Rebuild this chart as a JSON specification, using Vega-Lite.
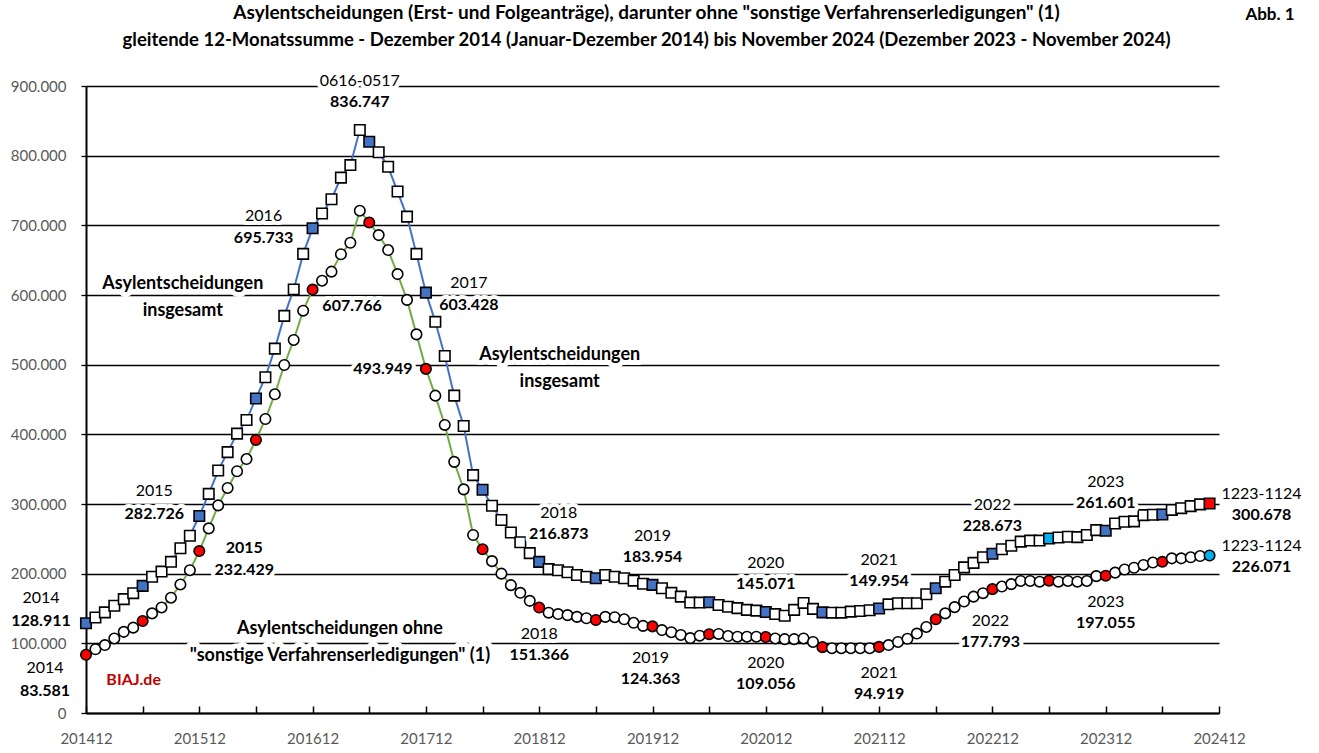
{
  "$schema": "https://vega.github.io/schema/vega-lite/v6.json",
  "width": 1133,
  "height": 627,
  "autosize": {"type": "none"},
  "padding": {"left": 86, "top": 86, "right": 100, "bottom": 40},
  "background": "white",
  "title": {
    "text": "Asylentscheidungen (Erst- und Folgeanträge), darunter ohne \"sonstige Verfahrenserledigungen\" (1)",
    "subtitle": "gleitende 12-Monatssumme - Dezember 2014 (Januar-Dezember 2014) bis November 2024 (Dezember 2023 - November 2024)",
    "anchor": "middle", "frame": "group", "offset": -44, "dx": -6,
    "font": "Lato", "fontSize": 19, "fontWeight": "bold", "color": "black",
    "subtitleFont": "Lato", "subtitleFontSize": 18.5, "subtitleFontWeight": "bold", "subtitleColor": "black",
    "subtitlePadding": 8
  },
  "config": {
    "locale": {"number": {"decimal": ",", "thousands": ".", "grouping": [3], "currency": ["", " €"]}},
    "font": "Lato",
    "view": {"stroke": null},
    "style": {
      "halo": {"font": "Lato", "fontSize": 16, "fontWeight": "bold", "fill": "white", "stroke": "white", "strokeWidth": 8, "strokeJoin": "round", "align": "center", "baseline": "middle"},
      "jahr": {"font": "Lato", "fontSize": 16, "fontWeight": "normal", "fill": "#404040", "align": "center", "baseline": "middle"},
      "zahl": {"font": "Lato", "fontSize": 16, "fontWeight": "bold", "fill": "black", "align": "center", "baseline": "middle"}
    }
  },
  "datasets": {
    "monate": [
      {"monat":"201412","i":0,"gesamt":128911,"ohne":83581},
      {"monat":"201501","i":1,"gesamt":137000,"ohne":91500},
      {"monat":"201502","i":2,"gesamt":144500,"ohne":97500},
      {"monat":"201503","i":3,"gesamt":154000,"ohne":107000},
      {"monat":"201504","i":4,"gesamt":163500,"ohne":116500},
      {"monat":"201505","i":5,"gesamt":172000,"ohne":122500},
      {"monat":"201506","i":6,"gesamt":182500,"ohne":132000},
      {"monat":"201507","i":7,"gesamt":195500,"ohne":143000},
      {"monat":"201508","i":8,"gesamt":203000,"ohne":151500},
      {"monat":"201509","i":9,"gesamt":217000,"ohne":165500},
      {"monat":"201510","i":10,"gesamt":236500,"ohne":184500},
      {"monat":"201511","i":11,"gesamt":254500,"ohne":205000},
      {"monat":"201512","i":12,"gesamt":282726,"ohne":232429},
      {"monat":"201601","i":13,"gesamt":314500,"ohne":265000},
      {"monat":"201602","i":14,"gesamt":348000,"ohne":298000},
      {"monat":"201603","i":15,"gesamt":374500,"ohne":323000},
      {"monat":"201604","i":16,"gesamt":401000,"ohne":347000},
      {"monat":"201605","i":17,"gesamt":420500,"ohne":364500},
      {"monat":"201606","i":18,"gesamt":451500,"ohne":392000},
      {"monat":"201607","i":19,"gesamt":482000,"ohne":422000},
      {"monat":"201608","i":20,"gesamt":523000,"ohne":457500},
      {"monat":"201609","i":21,"gesamt":570000,"ohne":499500},
      {"monat":"201610","i":22,"gesamt":608000,"ohne":535500},
      {"monat":"201611","i":23,"gesamt":659000,"ohne":577500},
      {"monat":"201612","i":24,"gesamt":695733,"ohne":607766},
      {"monat":"201701","i":25,"gesamt":717000,"ohne":620500},
      {"monat":"201702","i":26,"gesamt":737500,"ohne":633500},
      {"monat":"201703","i":27,"gesamt":768500,"ohne":658500},
      {"monat":"201704","i":28,"gesamt":786500,"ohne":675000},
      {"monat":"201705","i":29,"gesamt":836747,"ohne":721000},
      {"monat":"201706","i":30,"gesamt":820000,"ohne":704000},
      {"monat":"201707","i":31,"gesamt":805000,"ohne":686000},
      {"monat":"201708","i":32,"gesamt":784000,"ohne":664500},
      {"monat":"201709","i":33,"gesamt":748500,"ohne":630000},
      {"monat":"201710","i":34,"gesamt":712500,"ohne":593000},
      {"monat":"201711","i":35,"gesamt":659000,"ohne":543500},
      {"monat":"201712","i":36,"gesamt":603428,"ohne":493949},
      {"monat":"201801","i":37,"gesamt":561500,"ohne":455500},
      {"monat":"201802","i":38,"gesamt":512500,"ohne":413500},
      {"monat":"201803","i":39,"gesamt":455500,"ohne":360500},
      {"monat":"201804","i":40,"gesamt":412000,"ohne":321000},
      {"monat":"201805","i":41,"gesamt":341500,"ohne":255500},
      {"monat":"201806","i":42,"gesamt":320500,"ohne":235000},
      {"monat":"201807","i":43,"gesamt":297500,"ohne":218000},
      {"monat":"201808","i":44,"gesamt":277000,"ohne":200000},
      {"monat":"201809","i":45,"gesamt":259000,"ohne":183500},
      {"monat":"201810","i":46,"gesamt":245000,"ohne":172500},
      {"monat":"201811","i":47,"gesamt":229500,"ohne":161000},
      {"monat":"201812","i":48,"gesamt":216873,"ohne":151366},
      {"monat":"201901","i":49,"gesamt":206500,"ohne":144000},
      {"monat":"201902","i":50,"gesamt":205000,"ohne":142000},
      {"monat":"201903","i":51,"gesamt":202000,"ohne":140500},
      {"monat":"201904","i":52,"gesamt":198000,"ohne":138000},
      {"monat":"201905","i":53,"gesamt":195500,"ohne":136000},
      {"monat":"201906","i":54,"gesamt":193500,"ohne":133500},
      {"monat":"201907","i":55,"gesamt":198000,"ohne":138000},
      {"monat":"201908","i":56,"gesamt":195500,"ohne":137500},
      {"monat":"201909","i":57,"gesamt":193500,"ohne":134500},
      {"monat":"201910","i":58,"gesamt":190000,"ohne":129500},
      {"monat":"201911","i":59,"gesamt":185500,"ohne":125000},
      {"monat":"201912","i":60,"gesamt":183954,"ohne":124363},
      {"monat":"202001","i":61,"gesamt":179000,"ohne":119000},
      {"monat":"202002","i":62,"gesamt":172500,"ohne":116000},
      {"monat":"202003","i":63,"gesamt":167000,"ohne":112000},
      {"monat":"202004","i":64,"gesamt":158500,"ohne":107500},
      {"monat":"202005","i":65,"gesamt":158500,"ohne":111000},
      {"monat":"202006","i":66,"gesamt":159000,"ohne":113000},
      {"monat":"202007","i":67,"gesamt":155000,"ohne":113500},
      {"monat":"202008","i":68,"gesamt":152500,"ohne":110500},
      {"monat":"202009","i":69,"gesamt":150500,"ohne":109500},
      {"monat":"202010","i":70,"gesamt":148000,"ohne":109500},
      {"monat":"202011","i":71,"gesamt":147000,"ohne":109500},
      {"monat":"202012","i":72,"gesamt":145071,"ohne":109056},
      {"monat":"202101","i":73,"gesamt":142000,"ohne":107000},
      {"monat":"202102","i":74,"gesamt":139500,"ohne":106000},
      {"monat":"202103","i":75,"gesamt":148000,"ohne":106000},
      {"monat":"202104","i":76,"gesamt":158000,"ohne":107000},
      {"monat":"202105","i":77,"gesamt":149500,"ohne":102000},
      {"monat":"202106","i":78,"gesamt":144500,"ohne":94500},
      {"monat":"202107","i":79,"gesamt":144000,"ohne":93000},
      {"monat":"202108","i":80,"gesamt":144000,"ohne":93000},
      {"monat":"202109","i":81,"gesamt":145500,"ohne":93000},
      {"monat":"202110","i":82,"gesamt":146500,"ohne":93000},
      {"monat":"202111","i":83,"gesamt":147500,"ohne":93000},
      {"monat":"202112","i":84,"gesamt":149954,"ohne":94919},
      {"monat":"202201","i":85,"gesamt":156000,"ohne":97500},
      {"monat":"202202","i":86,"gesamt":157500,"ohne":102000},
      {"monat":"202203","i":87,"gesamt":157500,"ohne":106500},
      {"monat":"202204","i":88,"gesamt":157500,"ohne":114000},
      {"monat":"202205","i":89,"gesamt":170500,"ohne":123500},
      {"monat":"202206","i":90,"gesamt":179000,"ohne":134500},
      {"monat":"202207","i":91,"gesamt":188500,"ohne":143000},
      {"monat":"202208","i":92,"gesamt":198000,"ohne":152000},
      {"monat":"202209","i":93,"gesamt":209000,"ohne":160000},
      {"monat":"202210","i":94,"gesamt":215500,"ohne":167000},
      {"monat":"202211","i":95,"gesamt":223500,"ohne":172000},
      {"monat":"202212","i":96,"gesamt":228673,"ohne":177793},
      {"monat":"202301","i":97,"gesamt":235000,"ohne":181500},
      {"monat":"202302","i":98,"gesamt":240000,"ohne":185000},
      {"monat":"202303","i":99,"gesamt":246000,"ohne":189500},
      {"monat":"202304","i":100,"gesamt":247500,"ohne":189500},
      {"monat":"202305","i":101,"gesamt":247500,"ohne":188500},
      {"monat":"202306","i":102,"gesamt":250500,"ohne":190000},
      {"monat":"202307","i":103,"gesamt":252000,"ohne":188500},
      {"monat":"202308","i":104,"gesamt":253000,"ohne":189500},
      {"monat":"202309","i":105,"gesamt":252500,"ohne":188500},
      {"monat":"202310","i":106,"gesamt":255500,"ohne":189500},
      {"monat":"202311","i":107,"gesamt":262500,"ohne":196500},
      {"monat":"202312","i":108,"gesamt":261601,"ohne":197055},
      {"monat":"202401","i":109,"gesamt":272000,"ohne":201500},
      {"monat":"202402","i":110,"gesamt":274500,"ohne":206000},
      {"monat":"202403","i":111,"gesamt":275000,"ohne":208500},
      {"monat":"202404","i":112,"gesamt":284000,"ohne":212500},
      {"monat":"202405","i":113,"gesamt":284500,"ohne":216000},
      {"monat":"202406","i":114,"gesamt":285000,"ohne":217000},
      {"monat":"202407","i":115,"gesamt":291500,"ohne":222000},
      {"monat":"202408","i":116,"gesamt":294000,"ohne":222000},
      {"monat":"202409","i":117,"gesamt":297000,"ohne":223500},
      {"monat":"202410","i":118,"gesamt":299500,"ohne":225300},
      {"monat":"202411","i":119,"gesamt":300678,"ohne":226071}
    ],
    "marken": [
      {"i":0,"wert":128911,"jahr":"2014","lage":"lo"},
      {"i":12,"wert":282726,"jahr":"2015","lage":"lo"},
      {"i":24,"wert":695733,"jahr":"2016","lage":"l"},
      {"i":29,"wert":836747,"jahr":"0616-0517","lage":"o"},
      {"i":36,"wert":603428,"jahr":"2017","lage":"rk"},
      {"i":48,"wert":216873,"jahr":"2018","lage":"or"},
      {"i":60,"wert":183954,"jahr":"2019","lage":"o"},
      {"i":72,"wert":145071,"jahr":"2020","lage":"o"},
      {"i":84,"wert":149954,"jahr":"2021","lage":"o"},
      {"i":96,"wert":228673,"jahr":"2022","lage":"o"},
      {"i":108,"wert":261601,"jahr":"2023","lage":"o"},
      {"i":119,"wert":300678,"jahr":"1223-1124","lage":"r"},
      {"i":0,"wert":83581,"jahr":"2014","lage":"lu"},
      {"i":12,"wert":232429,"jahr":"2015","lage":"rb"},
      {"i":24,"wert":607766,"jahr":"","lage":"rv"},
      {"i":36,"wert":493949,"jahr":"","lage":"lv"},
      {"i":48,"wert":151366,"jahr":"2018","lage":"u"},
      {"i":60,"wert":124363,"jahr":"2019","lage":"u2"},
      {"i":72,"wert":109056,"jahr":"2020","lage":"u"},
      {"i":84,"wert":94919,"jahr":"2021","lage":"u"},
      {"i":96,"wert":177793,"jahr":"2022","lage":"u2"},
      {"i":108,"wert":197055,"jahr":"2023","lage":"u"},
      {"i":119,"wert":226071,"jahr":"1223-1124","lage":"r"}
    ],
    "notizen": [
      {"i":10.25,"wert":615360,"text":"Asylentscheidungen\ninsgesamt","art":"serie"},
      {"i":50.17,"wert":513160,"text":"Asylentscheidungen\ninsgesamt","art":"serie"},
      {"i":26.9,"wert":120140,"text":"Asylentscheidungen ohne\n\"sonstige Verfahrenserledigungen\" (1)","art":"serie"},
      {"i":5.05,"wert":47370,"text":"BIAJ.de","art":"quelle"},
      {"i":125.4,"wert":1001920,"text":"Abb. 1","art":"abb"}
    ]
  },
  "layer": [
    {
      "data": {"name": "monate"},
      "mark": {"type": "line", "color": "#4472C4", "strokeWidth": 2},
      "encoding": {
        "x": {"field": "i", "type": "quantitative",
          "scale": {"domain": [0, 120], "nice": false, "zero": false},
          "axis": {"title": null, "values": [0,6,12,18,24,30,36,42,48,54,60,66,72,78,84,90,96,102,108,114,120],
            "labelExpr": "datum.value % 12 === 0 ? '' + (201412 + datum.value / 12 * 100) : ''",
            "grid": false, "tickSize": -7, "tickColor": "black", "tickWidth": 1.5,
            "domainColor": "black", "domainWidth": 2, "labelPadding": 25,
            "labelFont": "Lato", "labelFontSize": 15, "labelColor": "#595959",
            "labelFlush": false, "labelOverlap": false, "labelBound": false}},
        "y": {"field": "gesamt", "type": "quantitative",
          "scale": {"domain": [0, 900000], "nice": false, "zero": true},
          "axis": {"title": null, "values": [0,100000,200000,300000,400000,500000,600000,700000,800000,900000],
            "format": ",d", "grid": true, "gridColor": "black", "gridWidth": 1.3,
            "tickSize": 5, "tickColor": "black", "tickWidth": 1.3,
            "domainColor": "black", "domainWidth": 2, "labelPadding": 15,
            "labelFont": "Lato", "labelFontSize": 15, "labelColor": "#595959", "labelFlush": false}}
      }
    },
    {
      "data": {"name": "monate"},
      "mark": {"type": "line", "color": "#70AD47", "strokeWidth": 2},
      "encoding": {
        "x": {"field": "i", "type": "quantitative"},
        "y": {"field": "ohne", "type": "quantitative"}
      }
    },
    {
      "data": {"name": "monate"},
      "mark": {"type": "point", "shape": "circle", "filled": true, "size": 110, "stroke": "black", "strokeWidth": 1.6, "opacity": 1},
      "encoding": {
        "x": {"field": "i", "type": "quantitative"},
        "y": {"field": "ohne", "type": "quantitative"},
        "fill": {"condition": [
          {"test": "datum.i === 119", "value": "#00B0F0"},
          {"test": "datum.i % 6 === 0", "value": "#FF0000"}
        ], "value": "white"}
      }
    },
    {
      "data": {"name": "monate"},
      "mark": {"type": "point", "shape": "square", "filled": true, "size": 110, "stroke": "black", "strokeWidth": 1.6, "opacity": 1},
      "encoding": {
        "x": {"field": "i", "type": "quantitative"},
        "y": {"field": "gesamt", "type": "quantitative"},
        "fill": {"condition": [
          {"test": "datum.i === 119", "value": "#FF0000"},
          {"test": "datum.i === 102", "value": "#00B0F0"},
          {"test": "datum.i % 6 === 0", "value": "#4472C4"}
        ], "value": "white"}
      }
    },
    {
      "data": {"name": "notizen"},
      "encoding": {
        "x": {"field": "i", "type": "quantitative"},
        "y": {"field": "wert", "type": "quantitative"},
        "text": {"field": "text", "type": "nominal"}
      },
      "layer": [
        {"transform": [{"filter": "datum.art === 'serie'"}],
         "mark": {"type": "text", "lineBreak": "\n", "lineHeight": 26.5, "font": "Lato", "fontSize": 18, "fontWeight": "bold", "fill": "white", "stroke": "white", "strokeWidth": 10, "strokeJoin": "round", "align": "center", "baseline": "middle"}},
        {"transform": [{"filter": "datum.art === 'serie'"}],
         "mark": {"type": "text", "lineBreak": "\n", "lineHeight": 26.5, "font": "Lato", "fontSize": 18, "fontWeight": "bold", "color": "black", "align": "center", "baseline": "middle"}},
        {"transform": [{"filter": "datum.art === 'quelle'"}],
         "mark": {"type": "text", "font": "Lato", "fontSize": 16, "fontWeight": "bold", "color": "#C00000", "align": "center", "baseline": "middle"}},
        {"transform": [{"filter": "datum.art === 'abb'"}],
         "mark": {"type": "text", "font": "Lato", "fontSize": 17, "fontWeight": "bold", "color": "black", "align": "center", "baseline": "middle"}}
      ]
    },
    {
      "data": {"name": "marken"},
      "transform": [{"filter": "datum.lage === 'lo'"}],
      "encoding": {"x": {"field": "i", "type": "quantitative"}, "y": {"field": "wert", "type": "quantitative"}},
      "layer": [
        {"mark": {"type": "text", "style": "halo", "dx": -45, "dy": -25}, "encoding": {"text": {"field": "jahr", "type": "nominal"}}},
        {"mark": {"type": "text", "style": "halo", "dx": -45, "dy": -2}, "encoding": {"text": {"field": "wert", "type": "quantitative", "format": ",d"}}},
        {"mark": {"type": "text", "style": "jahr", "dx": -45, "dy": -25}, "encoding": {"text": {"field": "jahr", "type": "nominal"}}},
        {"mark": {"type": "text", "style": "zahl", "dx": -45, "dy": -2}, "encoding": {"text": {"field": "wert", "type": "quantitative", "format": ",d"}}}
      ]
    },
    {
      "data": {"name": "marken"},
      "transform": [{"filter": "datum.lage === 'l'"}],
      "encoding": {"x": {"field": "i", "type": "quantitative"}, "y": {"field": "wert", "type": "quantitative"}},
      "layer": [
        {"mark": {"type": "text", "style": "halo", "dx": -49, "dy": -12}, "encoding": {"text": {"field": "jahr", "type": "nominal"}}},
        {"mark": {"type": "text", "style": "halo", "dx": -49, "dy": 10}, "encoding": {"text": {"field": "wert", "type": "quantitative", "format": ",d"}}},
        {"mark": {"type": "text", "style": "jahr", "dx": -49, "dy": -12}, "encoding": {"text": {"field": "jahr", "type": "nominal"}}},
        {"mark": {"type": "text", "style": "zahl", "dx": -49, "dy": 10}, "encoding": {"text": {"field": "wert", "type": "quantitative", "format": ",d"}}}
      ]
    },
    {
      "data": {"name": "marken"},
      "transform": [{"filter": "datum.lage === 'o'"}],
      "encoding": {"x": {"field": "i", "type": "quantitative"}, "y": {"field": "wert", "type": "quantitative"}},
      "layer": [
        {"mark": {"type": "text", "style": "halo", "dx": 0, "dy": -49}, "encoding": {"text": {"field": "jahr", "type": "nominal"}}},
        {"mark": {"type": "text", "style": "halo", "dx": 0, "dy": -28}, "encoding": {"text": {"field": "wert", "type": "quantitative", "format": ",d"}}},
        {"mark": {"type": "text", "style": "jahr", "dx": 0, "dy": -49}, "encoding": {"text": {"field": "jahr", "type": "nominal"}}},
        {"mark": {"type": "text", "style": "zahl", "dx": 0, "dy": -28}, "encoding": {"text": {"field": "wert", "type": "quantitative", "format": ",d"}}}
      ]
    },
    {
      "data": {"name": "marken"},
      "transform": [{"filter": "datum.lage === 'or'"}],
      "encoding": {"x": {"field": "i", "type": "quantitative"}, "y": {"field": "wert", "type": "quantitative"}},
      "layer": [
        {"mark": {"type": "text", "style": "halo", "dx": 19.5, "dy": -49}, "encoding": {"text": {"field": "jahr", "type": "nominal"}}},
        {"mark": {"type": "text", "style": "halo", "dx": 19.5, "dy": -28}, "encoding": {"text": {"field": "wert", "type": "quantitative", "format": ",d"}}},
        {"mark": {"type": "text", "style": "jahr", "dx": 19.5, "dy": -49}, "encoding": {"text": {"field": "jahr", "type": "nominal"}}},
        {"mark": {"type": "text", "style": "zahl", "dx": 19.5, "dy": -28}, "encoding": {"text": {"field": "wert", "type": "quantitative", "format": ",d"}}}
      ]
    },
    {
      "data": {"name": "marken"},
      "transform": [{"filter": "datum.lage === 'rk'"}],
      "encoding": {"x": {"field": "i", "type": "quantitative"}, "y": {"field": "wert", "type": "quantitative"}},
      "layer": [
        {"mark": {"type": "text", "style": "halo", "dx": 43, "dy": -10}, "encoding": {"text": {"field": "jahr", "type": "nominal"}}},
        {"mark": {"type": "text", "style": "halo", "dx": 43, "dy": 12}, "encoding": {"text": {"field": "wert", "type": "quantitative", "format": ",d"}}},
        {"mark": {"type": "text", "style": "jahr", "dx": 43, "dy": -10}, "encoding": {"text": {"field": "jahr", "type": "nominal"}}},
        {"mark": {"type": "text", "style": "zahl", "dx": 43, "dy": 12}, "encoding": {"text": {"field": "wert", "type": "quantitative", "format": ",d"}}}
      ]
    },
    {
      "data": {"name": "marken"},
      "transform": [{"filter": "datum.lage === 'r'"}],
      "encoding": {"x": {"field": "i", "type": "quantitative"}, "y": {"field": "wert", "type": "quantitative"}},
      "layer": [
        {"mark": {"type": "text", "style": "halo", "dx": 52, "dy": -10}, "encoding": {"text": {"field": "jahr", "type": "nominal"}}},
        {"mark": {"type": "text", "style": "halo", "dx": 52, "dy": 11.5}, "encoding": {"text": {"field": "wert", "type": "quantitative", "format": ",d"}}},
        {"mark": {"type": "text", "style": "jahr", "dx": 52, "dy": -10}, "encoding": {"text": {"field": "jahr", "type": "nominal"}}},
        {"mark": {"type": "text", "style": "zahl", "dx": 52, "dy": 11.5}, "encoding": {"text": {"field": "wert", "type": "quantitative", "format": ",d"}}}
      ]
    },
    {
      "data": {"name": "marken"},
      "transform": [{"filter": "datum.lage === 'rb'"}],
      "encoding": {"x": {"field": "i", "type": "quantitative"}, "y": {"field": "wert", "type": "quantitative"}},
      "layer": [
        {"mark": {"type": "text", "style": "halo", "dx": 45, "dy": -3}, "encoding": {"text": {"field": "jahr", "type": "nominal"}}},
        {"mark": {"type": "text", "style": "halo", "dx": 45, "dy": 18.5}, "encoding": {"text": {"field": "wert", "type": "quantitative", "format": ",d"}}},
        {"mark": {"type": "text", "style": "zahl", "dx": 45, "dy": -3}, "encoding": {"text": {"field": "jahr", "type": "nominal"}}},
        {"mark": {"type": "text", "style": "zahl", "dx": 45, "dy": 18.5}, "encoding": {"text": {"field": "wert", "type": "quantitative", "format": ",d"}}}
      ]
    },
    {
      "data": {"name": "marken"},
      "transform": [{"filter": "datum.lage === 'u'"}],
      "encoding": {"x": {"field": "i", "type": "quantitative"}, "y": {"field": "wert", "type": "quantitative"}},
      "layer": [
        {"mark": {"type": "text", "style": "halo", "dx": 0, "dy": 26}, "encoding": {"text": {"field": "jahr", "type": "nominal"}}},
        {"mark": {"type": "text", "style": "halo", "dx": 0, "dy": 47}, "encoding": {"text": {"field": "wert", "type": "quantitative", "format": ",d"}}},
        {"mark": {"type": "text", "style": "jahr", "dx": 0, "dy": 26}, "encoding": {"text": {"field": "jahr", "type": "nominal"}}},
        {"mark": {"type": "text", "style": "zahl", "dx": 0, "dy": 47}, "encoding": {"text": {"field": "wert", "type": "quantitative", "format": ",d"}}}
      ]
    },
    {
      "data": {"name": "marken"},
      "transform": [{"filter": "datum.lage === 'u2'"}],
      "encoding": {"x": {"field": "i", "type": "quantitative"}, "y": {"field": "wert", "type": "quantitative"}},
      "layer": [
        {"mark": {"type": "text", "style": "halo", "dx": -2, "dy": 32}, "encoding": {"text": {"field": "jahr", "type": "nominal"}}},
        {"mark": {"type": "text", "style": "halo", "dx": -2, "dy": 53}, "encoding": {"text": {"field": "wert", "type": "quantitative", "format": ",d"}}},
        {"mark": {"type": "text", "style": "jahr", "dx": -2, "dy": 32}, "encoding": {"text": {"field": "jahr", "type": "nominal"}}},
        {"mark": {"type": "text", "style": "zahl", "dx": -2, "dy": 53}, "encoding": {"text": {"field": "wert", "type": "quantitative", "format": ",d"}}}
      ]
    },
    {
      "data": {"name": "marken"},
      "transform": [{"filter": "datum.lage === 'lu'"}],
      "encoding": {"x": {"field": "i", "type": "quantitative"}, "y": {"field": "wert", "type": "quantitative"}},
      "layer": [
        {"mark": {"type": "text", "style": "halo", "dx": -41, "dy": 13}, "encoding": {"text": {"field": "jahr", "type": "nominal"}}},
        {"mark": {"type": "text", "style": "halo", "dx": -41, "dy": 36}, "encoding": {"text": {"field": "wert", "type": "quantitative", "format": ",d"}}},
        {"mark": {"type": "text", "style": "jahr", "dx": -41, "dy": 13}, "encoding": {"text": {"field": "jahr", "type": "nominal"}}},
        {"mark": {"type": "text", "style": "zahl", "dx": -41, "dy": 36}, "encoding": {"text": {"field": "wert", "type": "quantitative", "format": ",d"}}}
      ]
    },
    {
      "data": {"name": "marken"},
      "transform": [{"filter": "datum.lage === 'rv'"}],
      "encoding": {"x": {"field": "i", "type": "quantitative"}, "y": {"field": "wert", "type": "quantitative"}, "text": {"field": "wert", "type": "quantitative", "format": ",d"}},
      "layer": [
        {"mark": {"type": "text", "style": "halo", "dx": 39.5, "dy": 16}},
        {"mark": {"type": "text", "style": "zahl", "dx": 39.5, "dy": 16}}
      ]
    },
    {
      "data": {"name": "marken"},
      "transform": [{"filter": "datum.lage === 'lv'"}],
      "encoding": {"x": {"field": "i", "type": "quantitative"}, "y": {"field": "wert", "type": "quantitative"}, "text": {"field": "wert", "type": "quantitative", "format": ",d"}},
      "layer": [
        {"mark": {"type": "text", "style": "halo", "dx": -43, "dy": 0}},
        {"mark": {"type": "text", "style": "zahl", "dx": -43, "dy": 0}}
      ]
    }
  ]
}
